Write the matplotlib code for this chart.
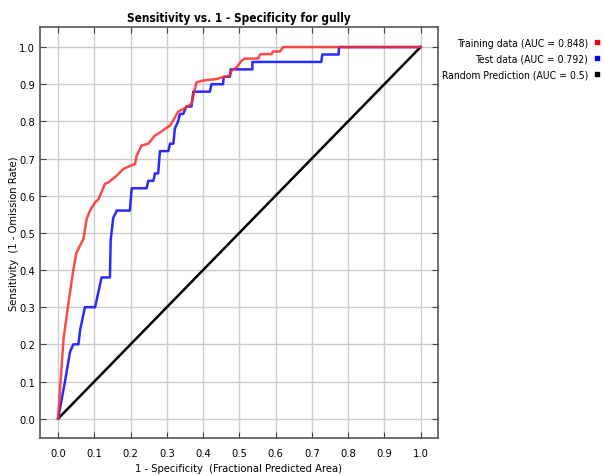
import matplotlib
matplotlib.use("Agg")
import matplotlib.pyplot as plt
from matplotlib.lines import Line2D

plt.rcParams['font.family'] = ['DejaVu Sans']
plt.rcParams['font.stretch'] = 'condensed'

# ROC data
train_fpr = [0, 0.006, 0.015, 0.031, 0.042, 0.05, 0.056, 0.07, 0.079, 0.088, 0.102, 0.111, 0.12,
             0.129, 0.139, 0.162, 0.18, 0.198, 0.212, 0.217, 0.23, 0.249, 0.267, 0.281, 0.295,
             0.309, 0.322, 0.331, 0.345, 0.368, 0.375, 0.382, 0.40, 0.437, 0.45, 0.474, 0.478,
             0.492, 0.506, 0.515, 0.552, 0.558, 0.589, 0.593, 0.612, 0.621, 1.0]
train_tpr = [0, 0.09, 0.215, 0.328, 0.40, 0.444, 0.457, 0.484, 0.538, 0.56, 0.582, 0.59, 0.61,
             0.632, 0.636, 0.654, 0.672, 0.68, 0.685, 0.708, 0.735, 0.74, 0.762, 0.77, 0.78,
             0.789, 0.81, 0.826, 0.833, 0.847, 0.878, 0.905, 0.91, 0.914, 0.918, 0.923, 0.936,
             0.945, 0.963, 0.969, 0.969, 0.981, 0.981, 0.988, 0.988, 1.0, 1.0]
test_fpr = [0, 0.019, 0.033, 0.042, 0.056, 0.061, 0.074, 0.102, 0.111, 0.12, 0.143, 0.145, 0.152,
            0.162, 0.198, 0.203, 0.244, 0.249, 0.263, 0.267, 0.276, 0.281, 0.304, 0.309, 0.318,
            0.322, 0.331, 0.336, 0.345, 0.354, 0.368, 0.373, 0.419, 0.423, 0.455, 0.457, 0.474,
            0.476, 0.536, 0.536, 0.726, 0.729, 0.774, 0.775, 1.0]
test_tpr = [0, 0.10, 0.18, 0.20, 0.20, 0.24, 0.30, 0.30, 0.34, 0.38, 0.38, 0.48, 0.54,
            0.56, 0.56, 0.62, 0.62, 0.64, 0.64, 0.66, 0.66, 0.72, 0.72, 0.74, 0.74,
            0.78, 0.80, 0.82, 0.82, 0.84, 0.84, 0.88, 0.88, 0.90, 0.90, 0.92, 0.92,
            0.94, 0.94, 0.96, 0.96, 0.98, 0.98, 1.0, 1.0]
rand_x = [0, 1]
rand_y = [0, 1]
labels = ["Training data (AUC = 0.848)", "Test data (AUC = 0.792)", "Random Prediction (AUC = 0.5)"]
ticks = [0.0, 0.1, 0.2, 0.3, 0.4, 0.5, 0.6, 0.7, 0.8, 0.9, 1.0]

fig = plt.figure(figsize=(6.03, 4.77), dpi=100)
ax = fig.add_axes([0.0663, 0.0797, 0.660, 0.8616])

ax.plot(rand_x, rand_y, color="black", lw=1.8, zorder=3)
ax.plot(test_fpr, test_tpr, color="#2a2aff", lw=1.8, zorder=4)
ax.plot(train_fpr, train_tpr, color="#ff2a2a", lw=1.8, alpha=0.85, zorder=5)

ax.set_xlim(-0.05, 1.048)
ax.set_ylim(-0.052, 1.054)
ax.set_xticks(ticks)
ax.set_yticks(ticks)
ax.set_xticklabels([f"{t:.1f}" for t in ticks])
ax.set_yticklabels([f"{t:.1f}" for t in ticks])
ax.grid(True, color="#cccccc", lw=1.0)
ax.set_axisbelow(True)
ax.tick_params(direction="in", length=4, top=True, right=True, labelsize=8, pad=3.5, color="#444444")
ax.tick_params(axis="x", pad=7)
for s in ax.spines.values():
    s.set_color("#555555")
    s.set_linewidth(1.2)

ax.set_title("Sensitivity vs. 1 - Specificity for gully", fontsize=8.5, fontweight="bold", pad=4)
ax.set_xlabel("1 - Specificity  (Fractional Predicted Area)", fontsize=8, labelpad=4)
ax.set_ylabel("Sensitivity  (1 - Omission Rate)", fontsize=8, labelpad=0.5)

handles = [Line2D([], [], ls="none", marker="s", ms=3, color=c) for c in ("red", "blue", "black")]
fig.legend(handles, labels, loc="upper right", bbox_to_anchor=(1.0, 0.925), frameon=False,
           markerfirst=False, handlelength=0.6, handletextpad=0.5, labelspacing=0.55,
           borderaxespad=0.1, borderpad=0.2, fontsize=7.5)

fig.savefig("out.png", dpi=100)
